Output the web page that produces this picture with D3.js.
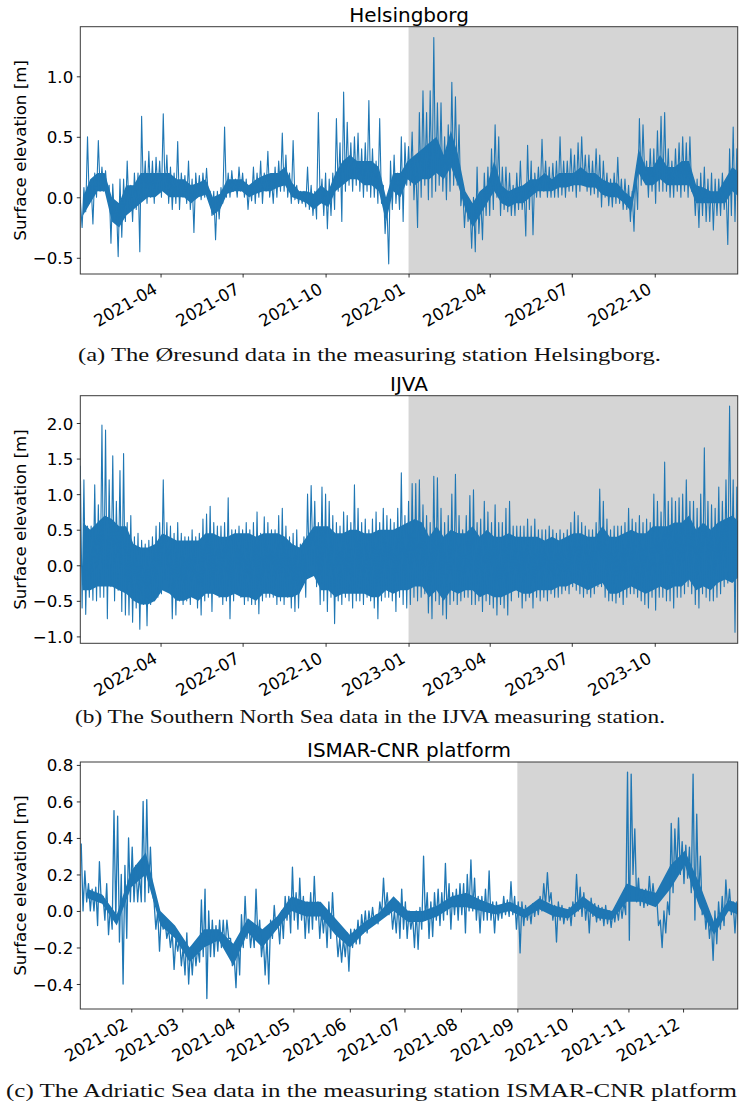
<!DOCTYPE html>
<html>
<head>
<meta charset="utf-8">
<script src="https://cdn.jsdelivr.net/npm/d3@7"></script>
<style>
  html, body { margin: 0; padding: 0; background: #fff; }
  svg { display: block; }
</style>
</head>
<body>
<div id="chart"></div>
<script>
// Sea surface elevation records at three stations. Each record is stored as
// period maxima / minima (fixed step of days) plus the bounds of the dense
// core of the signal over 8-day windows.

// ---- Helsingborg (Øresund), 4-day periods from 2021-01-01 ----
const helsStart = "2021-01-01";
const helsStep = 4;
const helsHigh = [
  -0.02, 0.08, 0.50, 0.10, 0.20, 0.47, 0.25, 0.22, 0.10, 0.11,
  -0.05, 0.15, 0.15, 0.30, 0.10, 0.20, 0.20, 0.67, 0.30, 0.38,
  0.30, 0.33, 0.30, 0.69, 0.35, 0.25, 0.20, 0.46, 0.20, 0.18,
  0.30, 0.15, 0.20, 0.18, 0.20, 0.24, 0.05, 0.05, 0.05, 0.08,
  0.58, 0.20, 0.22, 0.15, 0.25, 0.20, 0.15, 0.10, 0.25, 0.20,
  0.30, 0.20, 0.38, 0.15, 0.25, 0.30, 0.53, 0.35, 0.20, 0.47,
  0.10, 0.05, 0.05, 0.25, 0.10, 0.05, 0.70, 0.15, 0.20, 0.15,
  0.20, 0.65, 0.45, 0.87, 0.62, 0.45, 0.50, 0.53, 0.40, 0.45,
  0.80, 0.40, 0.30, 0.65, 0.10, -0.05, 0.30, 0.35, 0.20, 0.50,
  0.45, 0.42, 0.54, 0.30, 0.70, 0.88, 0.70, 0.88, 1.32, 0.78,
  0.78, 0.50, 0.60, 0.95, 0.83, 0.60, 0.10, 0.00, -0.05, 0.00,
  0.25, 0.00, 0.20, 0.25, 0.40, 0.60, 0.50, 0.25, 0.25, 0.20,
  0.10, 0.20, 0.30, 0.10, 0.43, 0.30, 0.20, 0.25, 0.48, 0.30,
  0.25, 0.28, 0.30, 0.50, 0.30, 0.30, 0.40, 0.35, 0.45, 0.50,
  0.35, 0.35, 0.30, 0.40, 0.35, 0.30, 0.20, 0.15, 0.20, 0.33,
  0.15, 0.15, 0.10, 0.05, 0.20, 0.65, 0.60, 0.30, 0.40, 0.40,
  0.55, 0.67, 0.70, 0.40, 0.30, 0.40, 0.45, 0.50, 0.45, 0.50,
  0.15, 0.15, 0.20, 0.25, 0.15, 0.20, 0.15, 0.15, 0.20, 0.10,
  0.40, 0.58, 0.40
];
const helsLow = [
  -0.25, -0.12, -0.05, -0.22, 0.00, 0.05, 0.05, 0.02, -0.38, -0.20,
  -0.49, -0.33, -0.20, -0.10, -0.20, -0.10, -0.45, 0.00, -0.05, 0.00,
  -0.05, 0.05, 0.00, 0.05, -0.05, -0.10, -0.05, -0.10, 0.00, -0.05,
  -0.10, -0.29, 0.00, -0.02, 0.00, 0.00, -0.15, -0.35, -0.18, -0.05,
  0.00, 0.00, 0.05, 0.00, 0.05, 0.00, -0.10, -0.03, -0.05, 0.00,
  -0.05, 0.05, 0.00, -0.05, 0.00, 0.05, 0.05, 0.00, -0.05, -0.02,
  -0.05, -0.05, -0.08, -0.10, -0.15, -0.18, -0.05, -0.15, -0.26, -0.15,
  -0.10, 0.05, -0.20, 0.05, 0.10, 0.05, 0.10, 0.05, 0.00, 0.05,
  0.00, 0.00, -0.05, -0.05, -0.30, -0.55, -0.10, -0.05, -0.10, -0.20,
  0.10, 0.10, -0.02, -0.25, 0.00, 0.10, -0.02, 0.00, 0.05, 0.10,
  0.05, -0.02, 0.05, 0.10, 0.10, -0.07, -0.25, -0.20, -0.42, -0.45,
  -0.30, -0.35, -0.15, -0.15, -0.10, 0.00, -0.15, -0.10, -0.12, -0.15,
  -0.15, -0.10, -0.10, -0.32, -0.10, -0.31, 0.00, 0.00, 0.05, 0.00,
  0.00, 0.00, 0.00, 0.02, 0.00, 0.05, 0.05, 0.00, 0.05, 0.10,
  0.05, 0.02, 0.03, 0.00, -0.08, 0.00, -0.07, -0.08, -0.05, -0.05,
  -0.10, -0.10, -0.20, -0.28, -0.10, 0.10, 0.15, 0.00, 0.05, -0.05,
  0.05, 0.05, 0.05, 0.00, 0.00, 0.05, 0.00, 0.05, 0.00, 0.05,
  -0.15, -0.25, -0.15, -0.20, -0.20, -0.27, -0.15, -0.15, -0.10, -0.39,
  -0.15, -0.20, -0.15
];
// dense core of the Helsingborg record, 8-day windows
const helsCoreHigh = [
  0.00, 0.15, 0.20, 0.20, 0.00, -0.05, 0.10, 0.10, 0.20, 0.20,
  0.20, 0.20, 0.20, 0.15, 0.15, 0.10, 0.12, 0.15, 0.00, 0.03,
  0.15, 0.15, 0.15, 0.10, 0.15, 0.18, 0.20, 0.20, 0.25, 0.12,
  0.05, 0.05, 0.03, 0.10, 0.05, 0.20, 0.30, 0.35, 0.30, 0.30,
  0.30, 0.25, 0.00, 0.20, 0.20, 0.30, 0.35, 0.40, 0.45, 0.50,
  0.35, 0.55, 0.35, 0.05, -0.05, 0.05, 0.10, 0.30, 0.10, 0.05,
  0.08, 0.10, 0.15, 0.15, 0.20, 0.15, 0.20, 0.20, 0.20, 0.25,
  0.20, 0.20, 0.15, 0.12, 0.12, 0.05, 0.00, 0.40, 0.25, 0.25,
  0.35, 0.25, 0.25, 0.30, 0.30, 0.10, 0.08, 0.05, 0.05, 0.15,
  0.25, 0.20
];
const helsCoreLow = [
  -0.15, -0.05, 0.05, 0.05, -0.20, -0.25, -0.15, -0.10, -0.05, 0.00,
  0.00, 0.05, 0.00, 0.00, 0.00, -0.05, 0.00, 0.02, -0.15, -0.10,
  0.03, 0.05, 0.05, 0.00, 0.03, 0.05, 0.05, 0.08, 0.10, 0.00,
  -0.02, -0.05, -0.10, -0.05, -0.08, 0.05, 0.10, 0.15, 0.15, 0.10,
  0.10, 0.05, -0.20, 0.05, 0.00, 0.15, 0.10, 0.15, 0.15, 0.20,
  0.15, 0.25, 0.10, -0.10, -0.25, -0.15, -0.05, 0.05, -0.05, -0.08,
  -0.05, -0.05, 0.00, 0.05, 0.05, 0.05, 0.08, 0.08, 0.10, 0.10,
  0.08, 0.08, 0.02, 0.00, 0.00, -0.05, -0.12, 0.20, 0.10, 0.10,
  0.15, 0.10, 0.10, 0.10, 0.10, -0.05, -0.05, -0.05, -0.05, -0.05,
  0.05, 0.00
];
const helsXTicks = ["2021-04-01", "2021-07-01", "2021-10-01", "2022-01-01",
                    "2022-04-01", "2022-07-01", "2022-10-01"];
const helsYTicks = [-0.5, 0.0, 0.5, 1.0];

// ---- IJVA (Southern North Sea), 4-day periods from 2022-01-01 ----
const ijvaStart = "2022-01-01";
const ijvaStep = 4;
const ijvaHigh = [
  1.40, 1.20, 0.55, 0.55, 1.13, 0.85, 1.97, 1.90, 1.20, 1.54,
  0.90, 1.33, 1.57, 0.60, 0.70, 0.40, 0.45, 0.35, 0.30, 0.35,
  0.40, 0.55, 0.60, 1.20, 0.60, 0.55, 0.45, 0.60, 0.45, 0.40,
  0.40, 0.50, 0.40, 0.45, 0.65, 0.72, 0.83, 0.60, 0.55, 0.55,
  0.60, 0.95, 0.50, 0.50, 0.55, 0.50, 0.60, 0.50, 0.60, 0.75,
  0.45, 0.68, 0.60, 0.50, 0.50, 0.70, 0.80, 0.55, 0.40, 0.45,
  0.50, 0.30, 0.40, 1.00, 1.12, 0.90, 0.60, 1.10, 1.00, 0.90,
  0.70, 0.60, 0.55, 0.75, 0.70, 0.60, 1.13, 0.80, 0.60, 0.65,
  0.50, 0.65, 0.75, 0.60, 0.80, 0.70, 0.65, 0.60, 0.80, 1.30,
  0.70, 0.90, 1.15, 1.15, 1.20, 0.85, 0.70, 0.60, 1.25, 1.23,
  0.80, 0.60, 0.70, 1.00, 1.28, 0.70, 0.50, 0.70, 0.98, 1.06,
  0.60, 0.65, 0.90, 0.75, 0.60, 0.85, 0.60, 0.60, 0.80, 0.90,
  0.55, 0.55, 0.55, 0.55, 0.65, 0.55, 0.65, 0.50, 0.50, 0.50,
  0.55, 0.50, 0.45, 0.50, 0.45, 0.50, 0.60, 0.75, 0.70, 0.60,
  0.55, 0.50, 0.50, 0.60, 1.07, 0.90, 0.65, 0.50, 0.55, 0.55,
  0.55, 0.60, 0.80, 0.65, 0.60, 0.70, 0.60, 0.65, 0.60, 1.00,
  0.90, 0.75, 1.45, 0.90, 0.95, 0.90, 0.95, 1.00, 1.20, 0.90,
  0.90, 0.80, 1.00, 1.65, 0.90, 0.85, 0.80, 1.10, 0.90, 1.20,
  2.24, 1.20, 1.10
];
const ijvaLow = [
  -0.60, -0.69, -0.45, -0.49, -0.50, -0.45, -0.45, -0.75, -0.30, -0.50,
  -0.35, -0.65, -0.70, -0.70, -0.80, -0.60, -0.90, -0.55, -0.85, -0.55,
  -0.50, -0.45, -0.40, -0.20, -0.30, -0.75, -0.70, -0.50, -0.55, -0.50,
  -0.55, -0.45, -0.60, -0.70, -0.50, -0.45, -0.65, -0.40, -0.45, -0.55,
  -0.50, -0.75, -0.50, -0.40, -0.45, -0.55, -0.50, -0.55, -0.55, -0.68,
  -0.50, -0.45, -0.45, -0.45, -0.55, -0.50, -0.55, -0.45, -0.60, -0.65,
  -0.60, -0.30, -0.45, -0.10, 0.00, -0.30, -0.55, -0.50, -0.65, -0.45,
  -0.82, -0.50, -0.55, -0.45, -0.50, -0.60, -0.50, -0.50, -0.55, -0.45,
  -0.50, -0.60, -0.75, -0.50, -0.45, -0.45, -0.50, -0.65, -0.45, -0.55,
  -0.60, -0.55, -0.45, -0.50, -0.45, -0.40, -0.67, -0.75, -0.50, -0.55,
  -0.70, -0.75, -0.55, -0.50, -0.55, -0.50, -0.45, -0.45, -0.55, -0.55,
  -0.50, -0.65, -0.50, -0.55, -0.60, -0.70, -0.55, -0.60, -0.70, -0.50,
  -0.35, -0.45, -0.60, -0.50, -0.45, -0.60, -0.45, -0.50, -0.45, -0.50,
  -0.40, -0.45, -0.45, -0.40, -0.35, -0.40, -0.30, -0.35, -0.40, -0.45,
  -0.40, -0.45, -0.40, -0.30, -0.30, -0.45, -0.50, -0.50, -0.53, -0.45,
  -0.55, -0.45, -0.40, -0.40, -0.45, -0.50, -0.55, -0.60, -0.45, -0.63,
  -0.45, -0.45, -0.50, -0.50, -0.60, -0.45, -0.45, -0.40, -0.30, -0.40,
  -0.55, -0.60, -0.40, -0.45, -0.50, -0.50, -0.45, -0.40, -0.30, -0.25,
  -0.20, -0.94, -0.50
];
// dense (tidal) core of the IJVA record, 8-day windows
const ijvaCoreHigh = [
  0.60, 0.50, 0.60, 0.70, 0.65, 0.55, 0.55, 0.30, 0.25, 0.25,
  0.30, 0.45, 0.40, 0.35, 0.35, 0.35, 0.35, 0.45, 0.45, 0.40,
  0.40, 0.45, 0.45, 0.45, 0.40, 0.45, 0.45, 0.45, 0.40, 0.30,
  0.25, 0.40, 0.55, 0.55, 0.55, 0.45, 0.45, 0.50, 0.50, 0.45,
  0.45, 0.50, 0.50, 0.50, 0.55, 0.60, 0.65, 0.60, 0.40, 0.55,
  0.40, 0.50, 0.45, 0.45, 0.55, 0.40, 0.50, 0.40, 0.40, 0.45,
  0.40, 0.40, 0.40, 0.40, 0.35, 0.40, 0.35, 0.40, 0.45, 0.45,
  0.40, 0.40, 0.55, 0.40, 0.40, 0.45, 0.50, 0.45, 0.45, 0.55,
  0.55, 0.55, 0.60, 0.60, 0.70, 0.50, 0.60, 0.50, 0.60, 0.65,
  0.70, 0.60
];
const ijvaCoreLow = [
  -0.35, -0.35, -0.30, -0.30, -0.30, -0.35, -0.40, -0.50, -0.55, -0.55,
  -0.50, -0.35, -0.40, -0.50, -0.50, -0.45, -0.50, -0.40, -0.40, -0.45,
  -0.45, -0.40, -0.45, -0.45, -0.50, -0.40, -0.40, -0.45, -0.45, -0.45,
  -0.40, -0.20, -0.15, -0.35, -0.35, -0.45, -0.40, -0.40, -0.40, -0.40,
  -0.45, -0.45, -0.35, -0.40, -0.35, -0.35, -0.30, -0.30, -0.45, -0.35,
  -0.50, -0.35, -0.40, -0.35, -0.35, -0.45, -0.40, -0.45, -0.45, -0.40,
  -0.35, -0.40, -0.40, -0.35, -0.35, -0.35, -0.30, -0.30, -0.25, -0.30,
  -0.35, -0.30, -0.25, -0.40, -0.40, -0.35, -0.30, -0.35, -0.40, -0.35,
  -0.30, -0.35, -0.30, -0.30, -0.20, -0.35, -0.30, -0.35, -0.25, -0.20,
  -0.25, -0.15
];
const ijvaXTicks = ["2022-04-01", "2022-07-01", "2022-10-01", "2023-01-01",
                    "2023-04-01", "2023-07-01", "2023-10-01"];
const ijvaYTicks = [-1.0, -0.5, 0.0, 0.5, 1.0, 1.5, 2.0];

// ---- ISMAR-CNR platform (Adriatic Sea), 2-day periods from 2021-01-04 ----
const ismarStart = "2021-01-04";
const ismarStep = 2;
const ismarHigh = [
  0.37, 0.22, 0.15, 0.12, 0.13, 0.27, 0.08, 0.15, 0.02, 0.55,
  0.52, 0.20, 0.25, 0.40, 0.35, 0.25, 0.20, 0.60, 0.61, 0.35,
  0.05, 0.00, -0.02, -0.05, -0.10, -0.12, -0.15, -0.15, -0.20, -0.12,
  -0.20, -0.18, -0.20, 0.06, 0.12, 0.00, -0.05, -0.08, -0.05, -0.05,
  -0.05, -0.15, -0.25, -0.15, -0.02, 0.08, -0.05, -0.10, 0.12, -0.05,
  -0.15, -0.15, -0.05, 0.03, -0.05, 0.00, 0.08, 0.08, 0.24, 0.10,
  0.18, 0.08, 0.05, 0.10, 0.19, 0.05, 0.00, 0.00, 0.05, 0.10,
  -0.10, -0.15, -0.15, -0.12, -0.10, -0.10, -0.05, -0.02, 0.00, 0.00,
  0.02, -0.02, 0.05, 0.18, 0.10, 0.05, 0.00, 0.05, 0.12, 0.05,
  0.00, -0.03, 0.00, 0.02, 0.30, 0.10, 0.05, 0.10, 0.12, 0.10,
  0.26, 0.15, 0.10, 0.12, 0.15, 0.15, 0.20, 0.28, 0.18, 0.08,
  0.08, 0.12, 0.22, 0.05, 0.05, 0.03, 0.08, 0.06, 0.16, 0.08,
  0.05, 0.05, 0.03, 0.02, 0.04, 0.05, 0.08, 0.15, 0.21, 0.10,
  0.03, 0.05, 0.03, 0.00, 0.02, 0.05, 0.20, 0.13, 0.10, 0.05,
  0.07, 0.04, 0.03, 0.02, 0.03, 0.00, 0.00, 0.02, 0.05, 0.05,
  0.76, 0.75, 0.45, 0.18, 0.12, 0.12, 0.19, 0.15, 0.08, -0.05,
  0.00, 0.05, 0.48, 0.45, 0.51, 0.38, 0.36, 0.35, 0.75, 0.53,
  0.30, 0.05, 0.00, -0.05, 0.00, 0.05, 0.08, 0.17, 0.12, 0.05,
  0.05
];
const ismarLow = [
  0.00, 0.05, 0.00, 0.00, -0.08, 0.05, -0.05, -0.13, -0.10, -0.05,
  -0.17, -0.40, -0.15, 0.05, 0.05, 0.05, 0.05, 0.05, 0.10, 0.10,
  -0.10, -0.22, -0.10, -0.15, -0.20, -0.32, -0.22, -0.30, -0.35, -0.40,
  -0.35, -0.30, -0.28, -0.25, -0.48, -0.25, -0.25, -0.22, -0.20, -0.20,
  -0.15, -0.30, -0.42, -0.35, -0.20, -0.15, -0.20, -0.20, -0.15, -0.25,
  -0.35, -0.40, -0.15, -0.10, -0.18, -0.15, -0.05, -0.12, -0.05, -0.10,
  -0.05, -0.15, -0.12, -0.10, -0.05, -0.15, -0.12, -0.20, -0.15, -0.10,
  -0.25, -0.28, -0.25, -0.33, -0.20, -0.18, -0.18, -0.12, -0.12, -0.08,
  -0.07, -0.07, -0.02, 0.00, -0.02, -0.10, -0.12, -0.15, -0.10, -0.15,
  -0.10, -0.20, -0.21, -0.10, -0.05, -0.15, -0.14, -0.05, -0.08, -0.05,
  -0.02, -0.10, -0.02, -0.05, -0.02, -0.12, 0.00, 0.00, -0.05, -0.12,
  -0.05, -0.05, -0.05, -0.12, -0.05, -0.04, -0.02, -0.03, -0.02, -0.10,
  -0.23, -0.08, -0.05, -0.07, -0.03, -0.02, 0.00, 0.03, 0.05, -0.05,
  -0.17, -0.05, -0.07, -0.05, -0.08, -0.03, 0.00, -0.03, -0.05, -0.12,
  -0.03, -0.06, -0.05, -0.08, -0.07, -0.09, -0.06, -0.05, -0.04, -0.02,
  -0.16, 0.20, 0.05, 0.03, 0.02, 0.03, 0.05, 0.05, -0.08, -0.20,
  -0.12, -0.02, 0.10, 0.20, 0.20, 0.15, 0.18, 0.10, -0.05, 0.05,
  -0.02, -0.10, -0.15, -0.27, -0.18, -0.10, -0.08, 0.00, -0.02, -0.12,
  -0.10
];
// dense core of the ISMAR-CNR record, 8-day windows
const ismarCoreHigh = [
  0.12, 0.09, -0.02, 0.22, 0.32, 0.00, -0.08, -0.20, -0.10, -0.10,
  -0.18, -0.04, -0.10, -0.03, 0.08, 0.05, 0.05, -0.04, -0.13, -0.06,
  -0.01, 0.08, 0.00, 0.00, 0.03, 0.08, 0.10, 0.06, 0.03, 0.05,
  0.01, 0.07, 0.03, 0.01, 0.08, 0.02, 0.00, 0.15, 0.12, 0.10,
  0.25, 0.33, 0.15, -0.06, 0.06, 0.03
];
const ismarCoreLow = [
  0.07, 0.04, -0.08, 0.13, 0.20, -0.08, -0.15, -0.28, -0.20, -0.16,
  -0.30, -0.12, -0.20, -0.10, 0.00, -0.03, -0.03, -0.13, -0.20, -0.12,
  -0.06, 0.00, -0.06, -0.06, -0.03, 0.02, 0.02, 0.00, -0.02, 0.00,
  -0.04, 0.01, -0.03, -0.04, 0.02, -0.04, -0.05, 0.05, 0.05, 0.02,
  0.12, 0.25, 0.02, -0.13, 0.00, -0.03
];
const ismarXTicks = ["2021-02-01", "2021-03-01", "2021-04-01", "2021-05-01",
                     "2021-06-01", "2021-07-01", "2021-08-01", "2021-09-01",
                     "2021-10-01", "2021-11-01", "2021-12-01"];
const ismarYTicks = [-0.4, -0.2, 0.0, 0.2, 0.4, 0.6, 0.8];

// ---- figure layout ----
const W = 740, H = 1107;
const LEFT = 80.3, RIGHT = 737.7;
const CORE_STEP = 8;
const parse = d3.timeParse("%Y-%m-%d");
const LINE = "#1f77b4";
const SHADE = "#d5d5d5";
const SANS = "'DejaVu Sans', Verdana, sans-serif";
const SERIF = "'Liberation Serif', 'Times New Roman', serif";

const panels = [
  {
    id: "hels", title: "Helsingborg",
    top: 26.7, bottom: 274,
    xDomain: ["2021-01-02", "2023-01-01"], shadeFrom: "2022-01-01",
    yDomain: [-0.634, 1.41],
    start: helsStart, step: helsStep, high: helsHigh, low: helsLow,
    coreHigh: helsCoreHigh, coreLow: helsCoreLow,
    xTicks: helsXTicks, yTicks: helsYTicks, lw: 1.1,
    caption: "(a) The \u00D8resund data in the measuring station Helsingborg.",
    capX: 78, capW: 583, capY: 361
  },
  {
    id: "ijva", title: "IJVA",
    top: 395.7, bottom: 643.3,
    xDomain: ["2022-01-02", "2024-01-01"], shadeFrom: "2023-01-01",
    yDomain: [-1.097, 2.384],
    start: ijvaStart, step: ijvaStep, high: ijvaHigh, low: ijvaLow,
    coreHigh: ijvaCoreHigh, coreLow: ijvaCoreLow,
    xTicks: ijvaXTicks, yTicks: ijvaYTicks, lw: 1.1,
    caption: "(b) The Southern North Sea data in the IJVA measuring station.",
    capX: 75, capW: 590, capY: 723
  },
  {
    id: "ismar", title: "ISMAR-CNR platform",
    top: 762, bottom: 1009,
    xDomain: ["2021-01-04", "2021-12-31"], shadeFrom: "2021-09-01",
    yDomain: [-0.537, 0.816],
    start: ismarStart, step: ismarStep, high: ismarHigh, low: ismarLow,
    coreHigh: ismarCoreHigh, coreLow: ismarCoreLow,
    xTicks: ismarXTicks, yTicks: ismarYTicks, lw: 1.3,
    caption: "(c) The Adriatic Sea data in the measuring station ISMAR-CNR platform",
    capX: 6, capW: 731, capY: 1097
  }
];

const svg = d3.select("#chart").append("svg")
  .attr("width", W).attr("height", H)
  .attr("viewBox", `0 0 ${W} ${H}`);

svg.append("rect").attr("width", W).attr("height", H).attr("fill", "#fff");

// Series alternating each period's maximum and minimum.
function buildSeries(p) {
  const t0 = parse(p.start);
  const pts = [];
  p.high.forEach((h, i) => {
    const base = i * p.step * 24;
    pts.push({ t: d3.timeHour.offset(t0, base + p.step * 6), v: h });
    pts.push({ t: d3.timeHour.offset(t0, base + p.step * 18), v: p.low[i] });
  });
  return pts;
}

// Core band bounds placed at the middle of each 8-day window.
function buildCore(p) {
  const t0 = parse(p.start);
  return p.coreHigh.map((h, i) => ({
    t: d3.timeHour.offset(t0, (i * CORE_STEP + CORE_STEP / 2) * 24),
    hi: h, lo: p.coreLow[i]
  }));
}

panels.forEach(p => {
  const x = d3.scaleTime()
    .domain(p.xDomain.map(parse))
    .range([LEFT, RIGHT]);
  const y = d3.scaleLinear()
    .domain(p.yDomain)
    .range([p.bottom, p.top]);

  const g = svg.append("g").attr("class", "panel-" + p.id);

  const clipId = "clip-" + p.id;
  svg.append("clipPath").attr("id", clipId)
    .append("rect")
    .attr("x", LEFT).attr("y", p.top)
    .attr("width", RIGHT - LEFT).attr("height", p.bottom - p.top);

  // test period highlight
  g.append("rect")
    .attr("x", x(parse(p.shadeFrom)))
    .attr("y", p.top)
    .attr("width", RIGHT - x(parse(p.shadeFrom)))
    .attr("height", p.bottom - p.top)
    .attr("fill", SHADE);

  const plot = g.append("g").attr("clip-path", `url(#${clipId})`);

  // dense core of the signal
  const core = d3.area()
    .x(d => x(d.t))
    .y0(d => y(d.lo))
    .y1(d => y(d.hi));
  plot.append("path")
    .datum(buildCore(p))
    .attr("fill", LINE)
    .attr("d", core);

  // period extremes
  const line = d3.line()
    .x(d => x(d.t))
    .y(d => y(d.v));
  plot.append("path")
    .datum(buildSeries(p))
    .attr("fill", "none")
    .attr("stroke", LINE)
    .attr("stroke-width", p.lw)
    .attr("stroke-linejoin", "round")
    .attr("d", line);

  // frame
  g.append("rect")
    .attr("x", LEFT).attr("y", p.top)
    .attr("width", RIGHT - LEFT).attr("height", p.bottom - p.top)
    .attr("fill", "none")
    .attr("stroke", "#3a3a3a")
    .attr("stroke-width", 1);

  // x axis
  const xa = g.append("g")
    .attr("transform", `translate(0,${p.bottom})`)
    .call(d3.axisBottom(x)
      .tickValues(p.xTicks.map(parse))
      .tickFormat(d3.timeFormat("%Y-%m"))
      .tickSize(3.5)
      .tickSizeOuter(0));
  xa.select(".domain").remove();
  xa.selectAll(".tick line").attr("stroke", "#000").attr("stroke-width", 0.8);
  xa.selectAll(".tick text")
    .attr("x", 0).attr("y", 0).attr("dy", null)
    .attr("text-anchor", "end")
    .attr("transform", "translate(-2.5,18.5) rotate(-30)")
    .attr("fill", "#000")
    .style("font-family", SANS)
    .style("font-size", "16.7px");

  // y axis
  const ya = g.append("g")
    .attr("transform", `translate(${LEFT},0)`)
    .call(d3.axisLeft(y)
      .tickValues(p.yTicks)
      .tickFormat(d3.format(".1f"))
      .tickSize(3.5)
      .tickPadding(3.5)
      .tickSizeOuter(0));
  ya.select(".domain").remove();
  ya.selectAll(".tick line").attr("stroke", "#000").attr("stroke-width", 0.8);
  ya.selectAll(".tick text")
    .attr("fill", "#000")
    .attr("dy", "0.36em")
    .style("font-family", SANS)
    .style("font-size", "16.7px");

  // y label
  g.append("text")
    .attr("transform", `translate(26,${(p.top + p.bottom) / 2}) rotate(-90)`)
    .attr("text-anchor", "middle")
    .style("font-family", SANS)
    .style("font-size", "16.7px")
    .attr("fill", "#000")
    .text("Surface elevation [m]");

  // title
  g.append("text")
    .attr("x", (LEFT + RIGHT) / 2)
    .attr("y", p.top - 5.2)
    .attr("text-anchor", "middle")
    .style("font-family", SANS)
    .style("font-size", "20px")
    .attr("fill", "#000")
    .text(p.title);

  // caption
  svg.append("text")
    .attr("x", p.capX)
    .attr("y", p.capY)
    .attr("textLength", p.capW)
    .attr("lengthAdjust", "spacingAndGlyphs")
    .style("font-family", SERIF)
    .style("font-size", "19.5px")
    .attr("fill", "#111")
    .text(p.caption);
});
</script>
</body>
</html>
